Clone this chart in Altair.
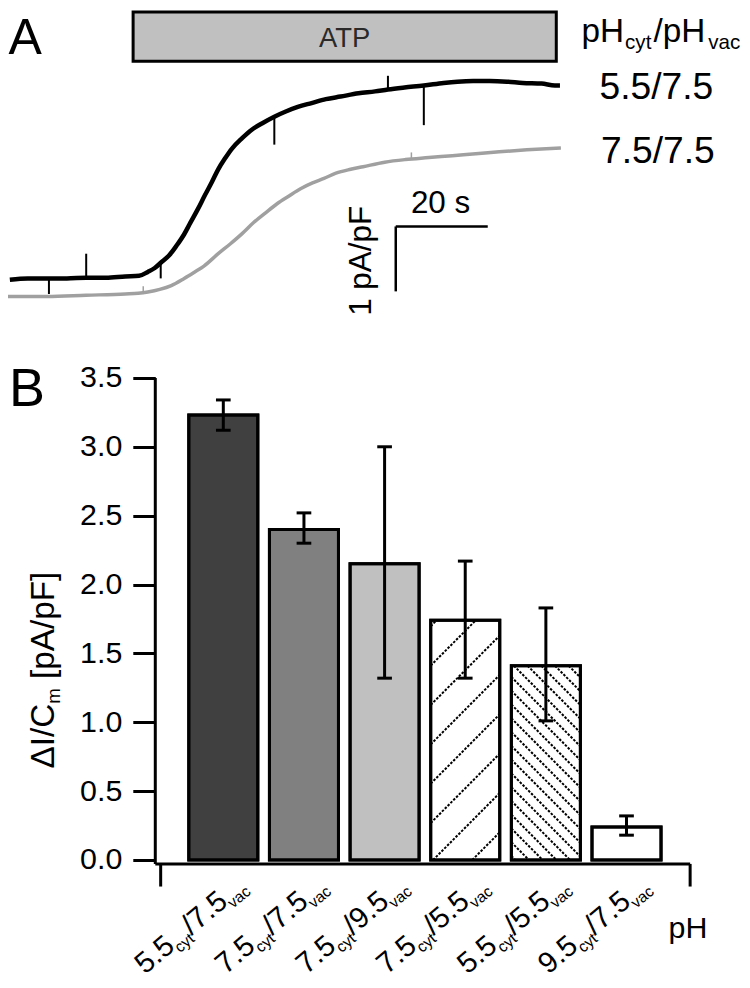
import altair as alt
import numpy as np
import pandas as pd

# ---------------- Panel A: current traces (time in s, current density in pA/pF) ----------------
black_t = [0.4, 4.3, 8.9, 12.8, 17.0, 21.3, 25.5, 28.5, 30.4, 31.9, 33.2, 35.1, 36.6, 38.3, 39.6,
           41.3, 42.8, 44.3, 45.7, 47.2, 48.7, 50.9, 53.0, 55.3, 57.9, 60.4, 63.0, 66.0, 69.1, 72.3,
           76.2, 79.8, 82.6, 86.2, 90.4, 94.7, 97.7, 101.1, 104.7, 108.5, 111.9, 116.0, 118.9, 120.0]
black_i = [0.24, 0.26, 0.26, 0.26, 0.27, 0.27, 0.29, 0.30, 0.36, 0.42, 0.50, 0.62, 0.76, 0.94, 1.11,
           1.33, 1.54, 1.74, 1.94, 2.11, 2.26, 2.42, 2.55, 2.65, 2.75, 2.83, 2.90, 2.96, 3.02, 3.06,
           3.11, 3.14, 3.17, 3.20, 3.23, 3.27, 3.29, 3.30, 3.30, 3.29, 3.27, 3.26, 3.23, 3.23]
gray_t = [0.0, 8.5, 17.0, 25.5, 28.3, 30.4, 33.0, 35.5, 38.3, 40.6, 42.6, 45.7, 48.3, 50.9, 53.4,
          56.0, 58.5, 61.1, 63.6, 66.2, 68.7, 71.3, 74.5, 77.2, 81.9, 86.4, 91.5, 96.6, 101.7, 106.8,
          112.8, 120.2]
gray_i = [-0.02, -0.02, 0.0, 0.02, 0.03, 0.05, 0.09, 0.15, 0.26, 0.36, 0.45, 0.64, 0.79, 0.95, 1.12,
          1.27, 1.41, 1.53, 1.64, 1.73, 1.80, 1.88, 1.94, 1.98, 2.05, 2.09, 2.12, 2.15, 2.18, 2.21,
          2.24, 2.27]
# artefact spikes on the traces
black_spike_t = [8.9, 17.0, 33.2, 57.9, 82.6, 90.4]
black_spike_from = [0.26, 0.27, 0.50, 2.75, 3.17, 3.23]
black_spike_to = [0.02, 0.64, 0.26, 2.32, 3.38, 2.62]
gray_spike_t = [29.4, 87.7]
gray_spike_from = [0.03, 2.10]
gray_spike_to = [0.14, 2.20]
# ATP application period (s)
atp_start, atp_end = 27.2, 119.2
trace_labels = ["5.5/7.5", "7.5/7.5"]
trace_label_i = [3.03, 2.03]
scalebar_t, scalebar_s = 84.3, 20.0
scalebar_i, scalebar_pApF = 0.06, 1.0

# ---------------- Panel B: bar chart ----------------
ph_cyt = ["5.5", "7.5", "7.5", "7.5", "5.5", "9.5"]
ph_vac = ["7.5", "7.5", "9.5", "5.5", "5.5", "7.5"]
mean_val = [3.23, 2.40, 2.15, 1.74, 1.41, 0.24]
err_low = [3.12, 2.30, 1.32, 1.32, 1.01, 0.18]
err_high = [3.34, 2.52, 3.00, 2.17, 1.83, 0.32]
bar_fill = ["#404040", "#808080", "#c0c0c0", "white", "white", "white"]
bar_hatch = [None, None, None, "/", "\\", None]
y_ticks = [0.0, 0.5, 1.0, 1.5, 2.0, 2.5, 3.0, 3.5]

# ---------------- layout helpers ----------------
FONT = "Liberation Sans"
W, H = 734, 972
SX, SY = W / 750, H / 988
def fs(s):
    return round(s * 0.98, 1)

# panel A mapping: 4.7 px per s, 66 px per pA/pF, I=0 at reference row 292
PX_S, PX_I, I0 = 4.7, 66.0, 292.0
xA = alt.Scale(domain=[0, 750 / PX_S], nice=False, zero=False)
yA = alt.Scale(domain=[(I0 - 988) / PX_I, I0 / PX_I], nice=False, zero=False)
# panel B mapping: category 1 at column 220, 82.4 px per category, 0 at row 866, 140 px per pA/pF
U1, PX_U, V0, PX_V = 220.0, 82.4, 866.0, 140.0
xB = alt.Scale(domain=[1 - U1 / PX_U, 1 + (750 - U1) / PX_U], nice=False, zero=False)
yB = alt.Scale(domain=[(V0 - 988) / PX_V, V0 / PX_V], nice=False, zero=False)

def u_of(px): return (px - U1) / PX_U + 1
def v_of(py): return (V0 - py) / PX_V
def rx(u): return U1 + (u - 1) * PX_U
def ry(v): return V0 - v * PX_V

def XA(f): return alt.X(f, type="quantitative", scale=xA, axis=None)
def YA(f): return alt.Y(f, type="quantitative", scale=yA, axis=None)
def XB(f): return alt.X(f, type="quantitative", scale=xB, axis=None)
def YB(f): return alt.Y(f, type="quantitative", scale=yB, axis=None)

layers = []

def text_a(t, i, s, **mk):
    df = pd.DataFrame({"t": [t], "i": [i], "s": [s]})
    mk.setdefault("baseline", "alphabetic")
    mk.setdefault("color", "black")
    return alt.Chart(df).mark_text(font=FONT, **mk).encode(x=XA("t"), y=YA("i"), text="s:N")

def text_b(u, v, s, **mk):
    df = pd.DataFrame({"u": [u], "v": [v], "s": [s]})
    mk.setdefault("baseline", "alphabetic")
    mk.setdefault("color", "black")
    return alt.Chart(df).mark_text(font=FONT, **mk).encode(x=XB("u"), y=YB("v"), text="s:N")

# ---------- Panel A ----------
atp_df = pd.DataFrame({"t0": [atp_start], "t1": [atp_end], "i0": [(I0 - 54) / PX_I], "i1": [(I0 - 4) / PX_I]})
layers.append(alt.Chart(atp_df).mark_rect(fill="#c0c0c0", stroke="black", strokeWidth=3).encode(
    x=XA("t0"), x2="t1", y=YA("i0"), y2="i1"))
layers.append(text_a((atp_start + atp_end) / 2, (I0 - 40) / PX_I, "ATP", align="center",
                     fontSize=fs(28), color="#2a2a2a"))

gray_df = pd.DataFrame({"t": gray_t, "i": gray_i})
layers.append(alt.Chart(gray_df).mark_line(color="#a0a0a0", strokeWidth=3.5, interpolate="monotone").encode(
    x=XA("t"), y=YA("i")))
gsp = pd.DataFrame({"t": gray_spike_t, "a": gray_spike_from, "b": gray_spike_to})
layers.append(alt.Chart(gsp).mark_rule(color="#a0a0a0", strokeWidth=1.5).encode(x=XA("t"), y=YA("a"), y2="b"))

black_df = pd.DataFrame({"t": black_t, "i": black_i})
layers.append(alt.Chart(black_df).mark_line(color="black", strokeWidth=4.5, interpolate="monotone").encode(
    x=XA("t"), y=YA("i")))
bsp = pd.DataFrame({"t": black_spike_t, "a": black_spike_from, "b": black_spike_to})
layers.append(alt.Chart(bsp).mark_rule(color="black", strokeWidth=2).encode(x=XA("t"), y=YA("a"), y2="b"))

# scale bar
sb_h = pd.DataFrame({"t0": [scalebar_t], "t1": [scalebar_t + scalebar_s], "i": [scalebar_i + scalebar_pApF]})
layers.append(alt.Chart(sb_h).mark_rule(color="black", strokeWidth=2.5).encode(x=XA("t0"), x2="t1", y=YA("i")))
sb_v = pd.DataFrame({"t": [scalebar_t], "i0": [scalebar_i], "i1": [scalebar_i + scalebar_pApF]})
layers.append(alt.Chart(sb_v).mark_rule(color="black", strokeWidth=2.5).encode(x=XA("t"), y=YA("i0"), y2="i1"))
layers.append(text_a(442 / PX_S, (I0 - 208) / PX_I, "20 s", align="center", fontSize=fs(32)))
layers.append(text_a(371 / PX_S, (I0 - 257) / PX_I, "1 pA/pF", align="center", angle=270, fontSize=fs(32)))

# trace labels
layers.append(text_a(662.5 / PX_S, trace_label_i[0], trace_labels[0], align="center", fontSize=fs(38)))
layers.append(text_a(664 / PX_S, trace_label_i[1], trace_labels[1], align="center", fontSize=fs(38)))

# header pH_cyt/pH_vac
hm, hs = fs(34), fs(21)
h_t, h_i = 586 / PX_S, (I0 - 35) / PX_I
w_pH = 1.278 * hm
w_cyt = 1.278 * hs
w_slpH = 1.556 * hm + 3
layers.append(text_a(h_t, h_i, "pH", align="left", fontSize=hm))
layers.append(text_a(h_t, h_i, "cyt", align="left", fontSize=hs, dx=w_pH + 1, dy=7))
layers.append(text_a(h_t, h_i, "/pH", align="left", fontSize=hm, dx=w_pH + w_cyt + 3))
layers.append(text_a(h_t, h_i, "vac", align="left", fontSize=hs, dx=w_pH + w_cyt + w_slpH + 3, dy=7))

# panel letters
layers.append(text_a(0.1, (I0 - 47) / PX_I, "A", align="left", fontSize=fs(51)))
layers.append(text_b(u_of(1), v_of(405), "B", align="left", fontSize=fs(55)))

# ---------- Panel B ----------
idx = list(range(1, len(mean_val) + 1))
HALF = 0.428
bdf = pd.DataFrame({"u": idx, "mean": mean_val, "lo": err_low, "hi": err_high, "fill": bar_fill,
                    "x0": [u - HALF for u in idx], "x1": [u + HALF for u in idx], "y0": [0.0] * len(idx),
                    "c0": [u - 0.091 for u in idx], "c1": [u + 0.091 for u in idx]})

yaxis = alt.Axis(orient="left", values=y_ticks, format=".1f", domain=False, grid=False, ticks=True,
                 tickSize=22.5, tickWidth=3, tickColor="black", labelFont=FONT, labelFontSize=fs(31),
                 labelColor="black", labelPadding=11, offset=-rx(u_of(150.5)) * SX, title=None)
layers.append(alt.Chart(bdf).mark_rect(stroke="black", strokeWidth=3).encode(
    x=XB("x0"), x2="x1", y=alt.Y("y0", type="quantitative", scale=yB, axis=yaxis), y2="mean",
    fill=alt.Fill("fill:N", scale=None)))

# hatching (drawn inside the bar outlines)
segs = []
for u, top, kind in zip(idx, mean_val, bar_hatch):
    if kind is None:
        continue
    x0, x1 = rx(u - HALF), rx(u + HALF)
    y0, y1 = ry(top), ry(0)
    if kind == "/":
        for c in np.arange(x0 + y0 + 6, x1 + y1, 40.0):
            xa, xb = max(x0, c - y1), min(x1, c - y0)
            if xb - xa > 1:
                segs.append((xa, c - xa, xb, c - xb))
    else:
        for c in np.arange(x0 - y1 + 4, x1 - y0, 14.0):
            xa, xb = max(x0, c + y0), min(x1, c + y1)
            if xb - xa > 1:
                segs.append((xa, xa - c, xb, xb - c))
hdf = pd.DataFrame({"xa": [u_of(s[0]) for s in segs], "ya": [v_of(s[1]) for s in segs],
                    "xb": [u_of(s[2]) for s in segs], "yb": [v_of(s[3]) for s in segs]})
layers.append(alt.Chart(hdf).mark_rule(color="black", strokeWidth=2, strokeDash=[2.5, 1.5]).encode(
    x=XB("xa"), y=YB("ya"), x2="xb", y2="yb"))
layers.append(alt.Chart(bdf).mark_rect(fill=None, fillOpacity=0, stroke="black", strokeWidth=3).encode(
    x=XB("x0"), x2="x1", y=YB("y0"), y2="mean"))

# error bars
layers.append(alt.Chart(bdf).mark_rule(color="black", strokeWidth=3).encode(x=XB("u"), y=YB("lo"), y2="hi"))
layers.append(alt.Chart(bdf).mark_rule(color="black", strokeWidth=3).encode(x=XB("c0"), x2="c1", y=YB("lo")))
layers.append(alt.Chart(bdf).mark_rule(color="black", strokeWidth=3).encode(x=XB("c0"), x2="c1", y=YB("hi")))

# axis lines (Igor style)
ax_u0, ax_u1, ax_v = u_of(150.5), u_of(697), v_of(870)
layers.append(alt.Chart(pd.DataFrame({"u": [ax_u0], "a": [ax_v], "b": [3.5]})).mark_rule(
    color="black", strokeWidth=3).encode(x=XB("u"), y=YB("a"), y2="b"))
layers.append(alt.Chart(pd.DataFrame({"a": [ax_u0], "b": [ax_u1], "v": [ax_v]})).mark_rule(
    color="black", strokeWidth=3).encode(x=XB("a"), x2="b", y=YB("v")))
layers.append(alt.Chart(pd.DataFrame({"u": [u_of(156), ax_u1], "a": [ax_v, ax_v], "b": [v_of(893)] * 2})).mark_rule(
    color="black", strokeWidth=3).encode(x=XB("u"), y=YB("a"), y2="b"))

# x label "pH"
layers.append(text_b(u_of(675), v_of(945), "pH", align="left", fontSize=fs(31)))

# y title  ΔI/C_m [pA/pF]
tm, ts = fs(34), fs(19)
t_u, t_v = u_of(46.7), v_of(773)
w1 = 1.945 * tm
w2 = 0.833 * ts
layers.append(text_b(t_u, t_v, "\u0394I/C", align="left", angle=270, fontSize=tm))
layers.append(text_b(t_u, t_v, "m", align="left", angle=270, fontSize=ts, dx=w1, dy=6))
layers.append(text_b(t_u, t_v, "[pA/pF]", align="left", angle=270, fontSize=tm, dx=w1 + w2 + 0.278 * tm))

# category labels, rotated, with subscripts
lm, ls = fs(30), fs(16)
ldf = pd.DataFrame({"u": [u + 6 / PX_U for u in idx], "v": [v_of(911)] * len(idx),
                    "cyt": ph_cyt, "vac": ["/" + s for s in ph_vac]})
w_main2 = 1.668 * lm
w_sub1 = 1.278 * ls
lab = alt.Chart(ldf)
common = dict(font=FONT, angle=320, baseline="alphabetic", color="black")
layers.append(lab.mark_text(align="right", fontSize=lm, dx=-(w_main2 + w_sub1), **common).encode(
    x=XB("u"), y=YB("v"), text="cyt:N"))
layers.append(lab.mark_text(align="right", fontSize=ls, dx=-w_main2, dy=6, text="cyt", **common).encode(
    x=XB("u"), y=YB("v")))
layers.append(lab.mark_text(align="right", fontSize=lm, dx=0, **common).encode(
    x=XB("u"), y=YB("v"), text="vac:N"))
layers.append(lab.mark_text(align="left", fontSize=ls, dx=0, dy=6, text="vac", **common).encode(
    x=XB("u"), y=YB("v")))

chart = alt.layer(*layers).resolve_scale(x="independent", y="independent").properties(
    width=W, height=H, padding=0, autosize=alt.AutoSizeParams(type="none")
).configure_view(stroke=None)

chart.save("out.html", embed_options={"renderer": "svg", "actions": False})
